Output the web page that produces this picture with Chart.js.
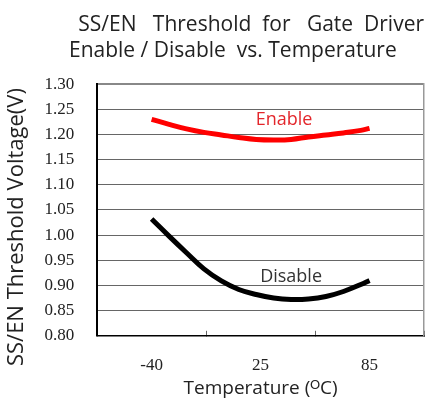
<!DOCTYPE html>
<html>
<head>
<meta charset="utf-8">
<script src="https://cdn.jsdelivr.net/npm/chart.js@4"></script>
<style>
html, body { margin: 0; padding: 0; background: #fff; }
#wrap { width: 434px; height: 404px; }
</style>
</head>
<body>
<div id="wrap"><canvas id="chart"></canvas></div>
<script>
const temperatures = [-40, -30, -20, -10, 0, 10, 20, 30, 40, 50, 60, 70, 80, 85];
const enableVolts  = [1.230, 1.220, 1.211, 1.204, 1.199, 1.194, 1.190, 1.189, 1.190, 1.195, 1.199, 1.203, 1.208, 1.212];
const disableVolts = [1.032, 0.998, 0.965, 0.933, 0.909, 0.892, 0.882, 0.875, 0.872, 0.873, 0.878, 0.888, 0.902, 0.910];

const xTickLabels = ['-40', '25', '85'];
const xTickTemps = [-40, 25, 85];
const yMin = 0.80, yMax = 1.30, yStep = 0.05;

// the category axis puts -40 / 25 / 85 at the middle of thirds,
// so the hidden linear axis is stretched to match
const span = xTickTemps[2] - xTickTemps[0];
const fullSpan = span * 6 / 4;
const xMin = xTickTemps[0] - fullSpan / 6;
const xMax = xMin + fullSpan;

const curveNotes = [
  { text: 'Enable', x: 36, y: 1.229, color: '#e3262b' },
  { text: 'Disable', x: 40, y: 0.917, color: '#333333' },
];

const sans = '"Open Sans", sans-serif';
const serif = '"Liberation Serif", serif';

const notesPlugin = {
  id: 'curveNotes',
  afterDatasetsDraw(chart) {
    const ctx = chart.ctx;
    const xs = chart.scales.x, ys = chart.scales.y;
    ctx.save();
    ctx.font = '18px ' + sans;
    ctx.textAlign = 'center';
    ctx.textBaseline = 'middle';
    curveNotes.forEach(n => {
      ctx.fillStyle = n.color;
      ctx.fillText(n.text, xs.getPixelForValue(n.x), ys.getPixelForValue(n.y));
    });
    ctx.restore();
  }
};

new Chart(document.getElementById('chart'), {
  type: 'line',
  data: {
    datasets: [{
      label: 'Enable',
      data: temperatures.map((t, i) => ({ x: t, y: enableVolts[i] })),
      borderColor: '#ff0000',
      borderWidth: 5,
      pointRadius: 0,
      tension: 0.4,
    }, {
      label: 'Disable',
      data: temperatures.map((t, i) => ({ x: t, y: disableVolts[i] })),
      borderColor: '#000000',
      borderWidth: 5,
      pointRadius: 0,
      tension: 0.4,
    }],
  },
  options: {
    responsive: true,
    maintainAspectRatio: false,
    animation: false,
    layout: { padding: { left: 4, right: 10, top: 4, bottom: 4 } },
    scales: {
      x: {
        type: 'linear',
        display: false,
        min: xMin,
        max: xMax,
      },
      xCat: {
        type: 'category',
        position: 'bottom',
        labels: xTickLabels,
        offset: true,
        grid: {
          offset: true,
          drawOnChartArea: false,
          color: '#666',
          tickLength: -5,
        },
        border: { color: '#000', width: 1.5 },
        ticks: {
          color: '#222',
          font: { family: serif, size: 17 },
          padding: 25,
        },
        // fit() counts tick padding twice, the negative top pulls it back
        title: {
          display: true,
          text: 'Temperature (ᴼC)',
          color: '#222',
          font: { family: sans, size: 19 },
          padding: { top: -24, bottom: 0 },
        },
      },
      y: {
        min: yMin,
        max: yMax,
        ticks: {
          stepSize: yStep,
          autoSkip: false,
          color: '#222',
          font: { family: serif, size: 17 },
          padding: 23,
          callback: v => v.toFixed(2),
        },
        grid: {
          color: ctx => ctx.tick && ctx.tick.value === yMax ? '#888' : '#666',
          lineWidth: ctx => ctx.tick && ctx.tick.value === yMax ? 2 : 1,
          drawTicks: false,
        },
        border: { color: '#000', width: 2 },
        title: {
          display: true,
          text: 'SS/EN Threshold Voltage(V)\u00a0\u00a0\u00a0\u00a0\u00a0\u00a0',
          color: '#222',
          font: { family: sans, size: 22 },
          padding: { top: 0, bottom: -9 },
        },
      },
      yRight: {
        position: 'right',
        min: yMin,
        max: yMax,
        ticks: { display: false },
        grid: { drawOnChartArea: false, drawTicks: false },
        border: { color: '#999', width: 1.5 },
      },
    },
    plugins: {
      legend: { display: false },
      tooltip: { enabled: false },
      title: {
        display: true,
        align: 'end',
        text: ['SS/EN   Threshold  for   Gate  Driver', 'Enable / Disable  vs. Temperature\u00a0\u00a0\u00a0\u00a0\u00a0'],
        color: '#222',
        font: { family: sans, size: 21, weight: 'normal', lineHeight: 1.24 },
        padding: { top: 8, bottom: 20 },
      },
    },
  },
  plugins: [notesPlugin],
});
</script>
</body>
</html>
